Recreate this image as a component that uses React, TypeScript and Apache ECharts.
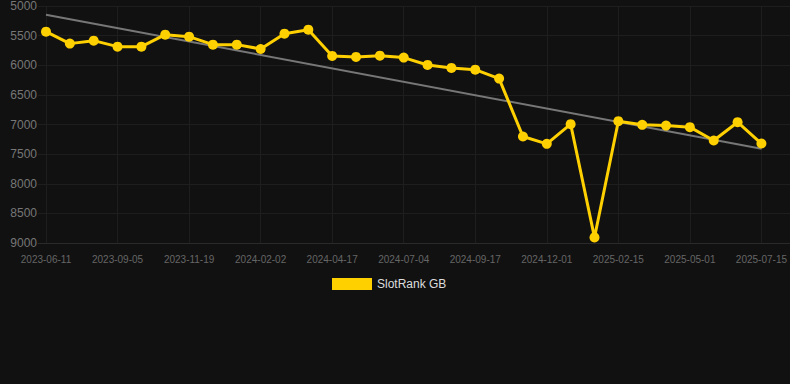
import React, { useEffect, useRef } from "react";
import * as echarts from "echarts";

const categories: string[] = [
  "2023-06-11", "2023-07-08", "2023-08-06", "2023-09-05", "2023-09-30", "2023-10-25",
  "2023-11-19", "2023-12-14", "2024-01-08", "2024-02-02", "2024-02-27", "2024-03-23",
  "2024-04-17", "2024-05-12", "2024-06-08", "2024-07-04", "2024-07-29", "2024-08-23",
  "2024-09-17", "2024-10-12", "2024-11-06", "2024-12-01", "2024-12-26", "2025-01-21",
  "2025-02-15", "2025-03-12", "2025-04-06", "2025-05-01", "2025-05-26", "2025-06-20",
  "2025-07-15",
];

const rankValues: number[] = [
  5433, 5635, 5585, 5686, 5686, 5484, 5517, 5652, 5652, 5725, 5467, 5400,
  5843, 5860, 5838, 5871, 5995, 6045, 6074, 6225, 7203, 7326, 6994, 8906,
  6944, 7006, 7018, 7045, 7270, 6961, 7321,
];

const trendStart = 5147;
const trendEnd = 7410;

const yMin = 5000;
const yMax = 9000;
const yInterval = 500;

const seriesName = "SlotRank GB";

export default function App() {
  const ref = useRef<HTMLDivElement>(null);

  useEffect(() => {
    if (!ref.current) return;
    const chart = echarts.init(ref.current, null, { renderer: "svg" });
    const trendData = categories.map((_, i) =>
      i === 0 ? trendStart : i === categories.length - 1 ? trendEnd : null
    );
    chart.setOption({
      animation: false,
      backgroundColor: "#111111",
      textStyle: { fontFamily: "Liberation Sans, Arial, sans-serif" },
      grid: [
        { left: 46, right: 28, top: 6, bottom: 141, containLabel: false },
        { left: 38, right: 0, top: 6, bottom: 141, containLabel: false },
      ],
      legend: {
        data: [{ name: seriesName, icon: "rect" }],
        top: 273,
        left: 327,
        itemWidth: 40,
        itemHeight: 12,
        itemGap: 10,
        textStyle: { color: "#dddddd", fontSize: 12 },
      },
      xAxis: [
        {
          type: "category",
          gridIndex: 0,
          data: categories,
          boundaryGap: false,
          axisLine: { show: false },
          axisTick: { show: false },
          axisLabel: { color: "#666666", fontSize: 10, interval: 2, margin: 11 },
          splitLine: { show: true, interval: 2, lineStyle: { color: "#1e1e1e", width: 1 } },
        },
        {
          type: "value",
          gridIndex: 1,
          min: 0,
          max: 1,
          axisLine: { show: true, onZero: false, lineStyle: { color: "#2a2a2a", width: 1 } },
          axisTick: { show: false },
          axisLabel: { show: false },
          splitLine: { show: false },
        },
      ],
      yAxis: [
        {
          type: "value",
          gridIndex: 0,
          inverse: true,
          min: yMin,
          max: yMax,
          interval: yInterval,
          axisLine: { show: false },
          axisTick: { show: false },
          axisLabel: {
            color: "#777777",
            fontSize: 12,
            margin: 9,
            formatter: (v: number) => String(v),
          },
          splitLine: { show: false },
        },
        {
          type: "value",
          gridIndex: 1,
          inverse: true,
          min: yMin,
          max: yMax,
          interval: yInterval,
          axisLine: { show: false },
          axisTick: { show: false },
          axisLabel: { show: false },
          splitLine: { show: true, lineStyle: { color: "#1e1e1e", width: 1 } },
        },
      ],
      series: [
        {
          name: "trend",
          type: "line",
          xAxisIndex: 0,
          yAxisIndex: 0,
          data: trendData,
          connectNulls: true,
          symbol: "none",
          lineStyle: { color: "#777777", width: 2 },
          silent: true,
          z: 3,
        },
        {
          name: seriesName,
          type: "line",
          xAxisIndex: 0,
          yAxisIndex: 0,
          data: rankValues,
          symbol: "circle",
          symbolSize: 10,
          itemStyle: { color: "#FFD000" },
          lineStyle: { color: "#FFD000", width: 3 },
          z: 4,
        },
      ],
    });
    return () => chart.dispose();
  }, []);

  return (
    <div
      ref={ref}
      style={{ position: "absolute", left: 0, top: 0, width: 790, height: 384 }}
    />
  );
}
